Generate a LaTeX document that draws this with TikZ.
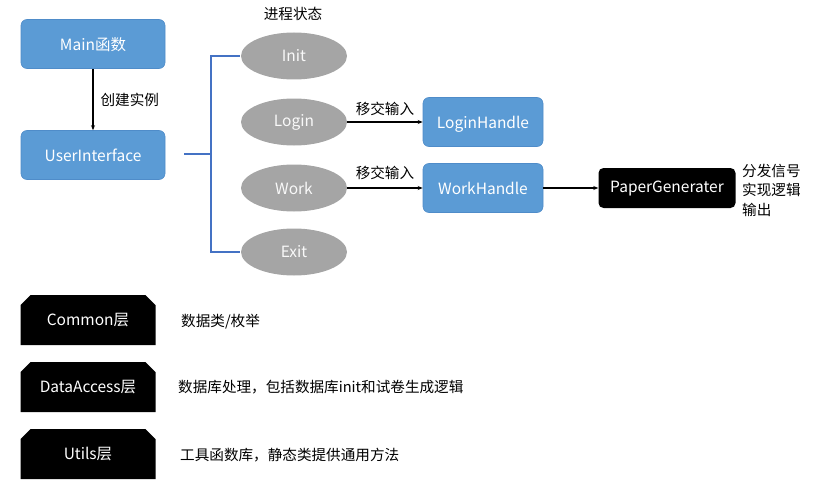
\documentclass[tikz,border=0pt]{standalone}
\usepackage{fontspec}
\setmainfont{Noto Sans CJK SC}
\usetikzlibrary{shapes.geometric,shapes.misc,arrows.meta}
\definecolor{boxblue}{HTML}{5B9BD5}
\definecolor{boxedge}{HTML}{4F8CC9}
\definecolor{brk}{HTML}{4472C4}
\definecolor{ellgray}{HTML}{A5A5A5}
\tikzset{
  bf/.style={font=\fontsize{15.5}{17}\selectfont},
  bluebox/.style={draw=boxedge, line width=0.6pt, fill=boxblue, rounded corners=6pt, text=white, minimum width=144pt, minimum height=49pt, inner sep=0pt, bf, text depth=0pt, yshift=0pt},
  handlebox/.style={bluebox, minimum width=120pt},
  stateell/.style={ellipse, fill=ellgray, text=white!95!gray, minimum width=106pt, minimum height=47pt, inner sep=0pt, bf},
  blackbox/.style={fill=black, rounded corners=5pt, text=white, minimum width=137pt, minimum height=40pt, inner sep=0pt, bf},
  layerbox/.style={chamfered rectangle, chamfered rectangle corners={north west,north east}, chamfered rectangle xsep=5pt, chamfered rectangle ysep=5pt, fill=black, text=white, minimum width=135pt, minimum height=50pt, inner sep=0pt, bf},
  lbl/.style={font=\fontsize{14.6}{17}\selectfont, inner sep=0pt},
  arr/.style={-{Stealth[length=5pt,width=4pt]}, line width=1.1pt},
  bracket/.style={draw=brk, line width=1.2pt},
}
\begin{document}
\begin{tikzpicture}[x=1pt,y=-1pt]
\useasboundingbox (0,0) rectangle (825,487);
% left column
\node[bluebox] (main) at (93,44) {Main函数};
\node[bluebox] (ui) at (93,155) {UserInterface};
\draw[arr] (main) -- node[lbl, right=7pt] {创建实例} (ui);
% states
\node[lbl] (title) at (293,14) {进程状态};
\node[stateell] (init) at (294,56) {Init};
\node[stateell] (login) at (294,122) {Login};
\node[stateell] (work) at (294,188) {Work};
\node[stateell] (exit) at (294,252) {Exit};
% bracket
\coordinate (bx) at (211,154);
\draw[bracket] (ui.east) ++(19,-1) coordinate (b0) -- (bx);
\draw[bracket] (init.west) ++(-1,0) -- (211,56) -- (211,252) -- ([xshift=-1pt]exit.west);
% handles
\node[handlebox] (lh) at (483,122) {LoginHandle};
\node[handlebox] (wh) at (483,188) {WorkHandle};
\draw[arr] (login) -- node[lbl, above=6pt] {移交输入} (lh);
\draw[arr] (work) -- node[lbl, above=8pt] {移交输入} (wh);
\node[blackbox] (pg) at (667,188) {PaperGenerater};
\draw[arr] (wh) -- (pg);
\node[lbl, anchor=west, align=left, font=\fontsize{14.6}{19.5}\selectfont] (pgnote) at (742,190) {分发信号\\实现逻辑\\输出};
% layers
\node[layerbox] (common) at (88,320) {Common层};
\node[lbl, anchor=west] (commonnote) at (181,322) {数据类/枚举};
\node[layerbox] (da) at (88,387) {DataAccess层};
\node[lbl, anchor=west] (danote) at (178,387) {数据库处理，包括数据库init和试卷生成逻辑};
\node[layerbox] (utils) at (88,454) {Utils层};
\node[lbl, anchor=west] (utilsnote) at (180,455) {工具函数库，静态类提供通用方法};
\end{tikzpicture}
\end{document}
